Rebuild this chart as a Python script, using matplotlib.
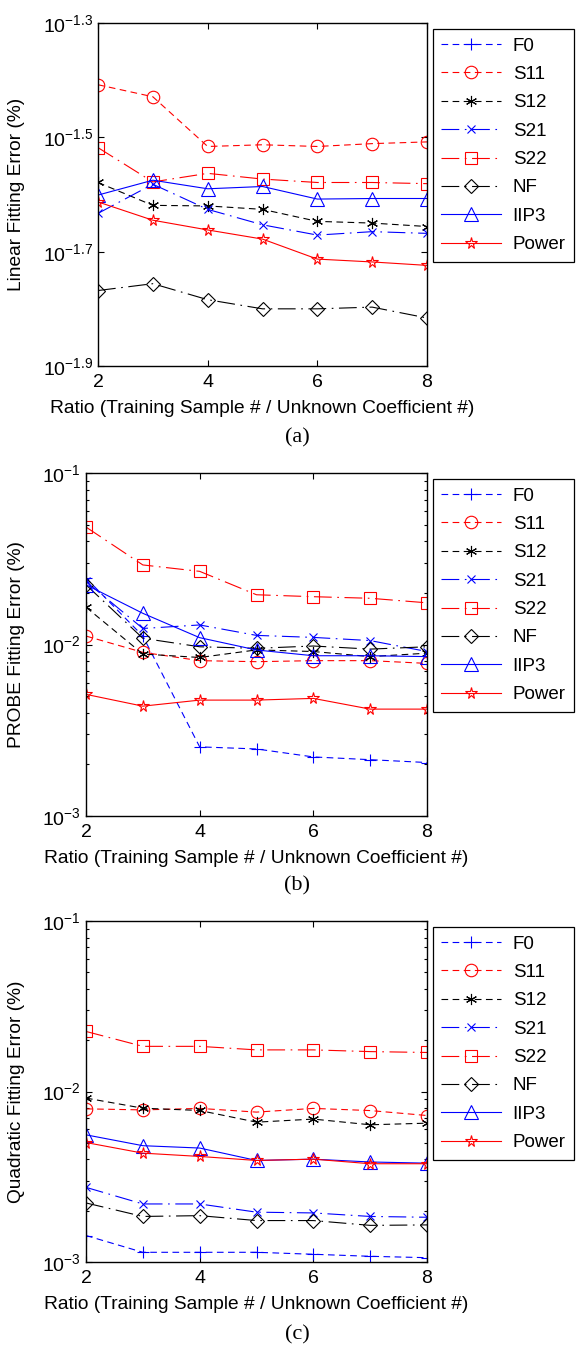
import numpy as np
import matplotlib
matplotlib.use("Agg")
import matplotlib.pyplot as plt
from matplotlib.ticker import FixedLocator, FuncFormatter, LogLocator, NullFormatter

plt.rcParams['font.family'] = ['Liberation Sans', 'DejaVu Sans']
plt.rcParams['mathtext.fontset'] = 'custom'
plt.rcParams['mathtext.rm'] = 'Liberation Sans'
plt.rcParams['mathtext.it'] = 'Liberation Sans:italic'

ratio = [2, 3, 4, 5, 6, 7, 8]
names = ["F0", "S11", "S12", "S21", "S22", "NF", "IIP3", "Power"]

# panel (a) values are log10 of the error
lin_F0 = [np.nan] * 7
lin_S11 = [-1.408, -1.429, -1.516, -1.513, -1.516, -1.511, -1.508]
lin_S12 = [-1.579, -1.619, -1.620, -1.626, -1.647, -1.650, -1.656]
lin_S21 = [-1.633, -1.582, -1.626, -1.653, -1.671, -1.665, -1.668]
lin_S22 = [-1.518, -1.578, -1.563, -1.573, -1.579, -1.579, -1.581]
lin_NF = [-1.768, -1.756, -1.784, -1.800, -1.800, -1.797, -1.816]
lin_IIP3 = [-1.601, -1.575, -1.590, -1.586, -1.608, -1.607, -1.607]
lin_Power = [-1.613, -1.645, -1.662, -1.678, -1.713, -1.718, -1.724]

probe_F0 = [0.0244, 0.0112, 0.00253, 0.00246, 0.00221, 0.00213, 0.00205]
probe_S11 = [0.0112, 0.0090, 0.00805, 0.00794, 0.00805, 0.00805, 0.00776]
probe_S12 = [0.0165, 0.0088, 0.0084, 0.0093, 0.0091, 0.0085, 0.0089]
probe_S21 = [0.0233, 0.0124, 0.0130, 0.0113, 0.0110, 0.01054, 0.0091]
probe_S22 = [0.0484, 0.0291, 0.0267, 0.0195, 0.0190, 0.0186, 0.0175]
probe_NF = [0.0223, 0.01087, 0.0097, 0.0095, 0.0098, 0.0094, 0.0097]
probe_IIP3 = [0.0223, 0.0152, 0.01096, 0.00929, 0.0086, 0.0086, 0.0085]
probe_Power = [0.00512, 0.00437, 0.00474, 0.00474, 0.00485, 0.00420, 0.00420]

quad_F0 = [0.00143, 0.00114, 0.00114, 0.00114, 0.00111, 0.00108, 0.00106]
quad_S11 = [0.00791, 0.0078, 0.00796, 0.00757, 0.00796, 0.00773, 0.00723]
quad_S12 = [0.00915, 0.00798, 0.00774, 0.00661, 0.00689, 0.00638, 0.00652]
quad_S21 = [0.00274, 0.00219, 0.00219, 0.00196, 0.00194, 0.00185, 0.00183]
quad_S22 = [0.0225, 0.0184, 0.0184, 0.01754, 0.01754, 0.01714, 0.01694]
quad_NF = [0.00222, 0.00185, 0.00187, 0.00175, 0.00175, 0.00164, 0.00165]
quad_IIP3 = [0.00557, 0.00481, 0.00466, 0.00394, 0.00401, 0.00386, 0.00380]
quad_Power = [0.00502, 0.00435, 0.00416, 0.00394, 0.00401, 0.00377, 0.00377]

linear = [lin_F0, lin_S11, lin_S12, lin_S21, lin_S22, lin_NF, lin_IIP3, lin_Power]
linear = [list(10 ** np.array(v)) for v in linear]
probe = [probe_F0, probe_S11, probe_S12, probe_S21, probe_S22, probe_NF, probe_IIP3, probe_Power]
quad = [quad_F0, quad_S11, quad_S12, quad_S21, quad_S22, quad_NF, quad_IIP3, quad_Power]

colors = ['b', 'r', 'k', 'b', 'r', 'k', 'b', 'r']
dashes = [(6, 4), (6, 4), (6, 4), (16, 5, 1.5, 5), (16, 5, 1.5, 5), (16, 5, 1.5, 5), None, None]
markers = ['+', 'o', (6, 2, 0), 'x', 's', 'D', '^', '*']
msizes = [9, 9, 8, 5.5, 9, 7.5, 9.5, 8.5]

fig = plt.figure(figsize=(5.8, 13.47), dpi=100)
W, H = 580.0, 1347.0


def panel(box, data, ylabel, lo, hi, ticks, tlabels, minor, cap, cap_y, leg_top):
    l, t, r, b = box
    ax = fig.add_axes([l / W, 1 - b / H, (r - l) / W, (b - t) / H])
    lines = []
    for i in range(8):
        ln, = ax.plot(ratio, data[i], color=colors[i], marker=markers[i], ms=msizes[i],
                      mfc='none', mec=colors[i], mew=0.8, lw=0.8, label=names[i])
        if dashes[i] is not None:
            ln.set_dashes(dashes[i])
        lines.append(ln)
    ax.set_yscale('log')
    ax.set_ylim(lo, hi)
    ax.set_xlim(2, 8)
    ax.set_xticks([2, 4, 6, 8])
    ax.yaxis.set_major_locator(FixedLocator(ticks))
    ax.yaxis.set_major_formatter(FuncFormatter(lambda v, p: tlabels[ticks.index(v)] if v in ticks else ''))
    if minor:
        ax.yaxis.set_minor_locator(LogLocator(base=10, subs=np.arange(2, 10)))
    else:
        ax.yaxis.set_minor_locator(FixedLocator([]))
    ax.yaxis.set_minor_formatter(NullFormatter())
    ax.tick_params(which='both', direction='in', top=True, right=True, labelsize=14, width=0.8)
    ax.tick_params(axis='x', pad=6)
    ax.tick_params(which='major', length=4)
    ax.tick_params(which='minor', length=2.5)
    for s in ax.spines.values():
        s.set_linewidth(1.0)
    ax.set_xlabel("Ratio (Training Sample # / Unknown Coefficient #)", fontsize=13.8, labelpad=6)
    ax.set_ylabel(ylabel, fontsize=13.8)
    ax.yaxis.set_label_coords(-(l - 25) / (r - l), 0.5)
    fig.text(297 / W, 1 - cap_y / H, cap, family=['Liberation Serif'], fontsize=16,
             ha='center', va='center')
    leg = ax.legend(handles=lines, loc='upper left', bbox_to_anchor=(433 / W, 1 - leg_top / H),
                    bbox_transform=fig.transFigure, borderaxespad=0, fontsize=13.5,
                    handlelength=3.2, labelspacing=0.6, borderpad=0.45, handletextpad=0.6,
                    fancybox=False, edgecolor='k', framealpha=1)
    leg.get_frame().set_linewidth(0.9)
    return ax


panel((98, 23, 427, 366), linear, "Linear Fitting Error (%)", 10 ** -1.9, 10 ** -1.3,
      [10 ** -1.9, 10 ** -1.7, 10 ** -1.5, 10 ** -1.3],
      [r'$10^{-1.9}$', r'$10^{-1.7}$', r'$10^{-1.5}$', r'$10^{-1.3}$'], False, "(a)", 438, 29)
panel((86, 473, 427, 816), probe, "PROBE Fitting Error (%)", 1e-3, 1e-1,
      [1e-3, 1e-2, 1e-1], [r'$10^{-3}$', r'$10^{-2}$', r'$10^{-1}$'], True, "(b)", 886, 479)
panel((86, 921, 427, 1262), quad, "Quadratic Fitting Error (%)", 1e-3, 1e-1,
      [1e-3, 1e-2, 1e-1], [r'$10^{-3}$', r'$10^{-2}$', r'$10^{-1}$'], True, "(c)", 1335, 927)

plt.savefig("out.png", dpi=100)
